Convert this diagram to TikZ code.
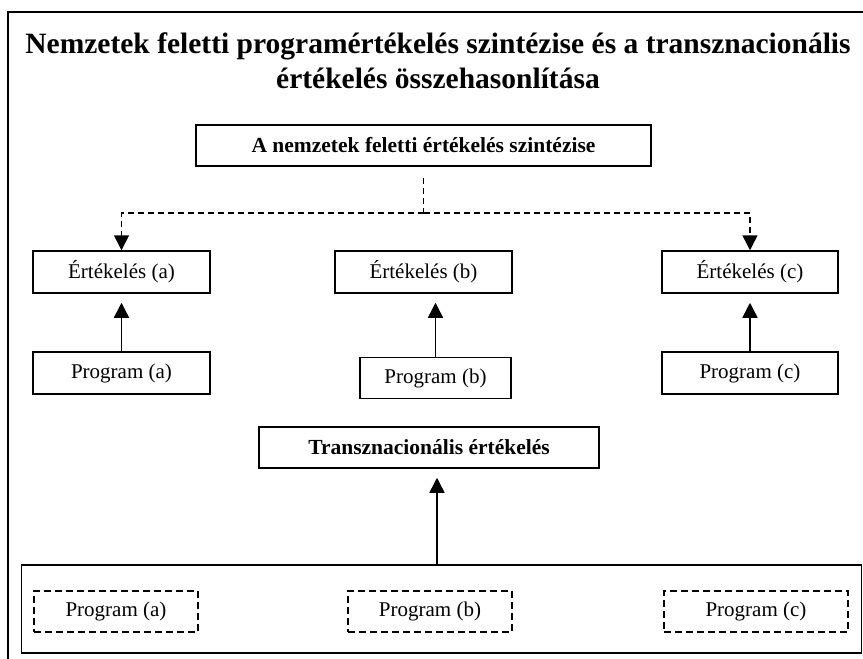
\documentclass[tikz,border=0pt]{standalone}
\usepackage{fontspec}
\setmainfont{Liberation Serif}
\usetikzlibrary{arrows.meta}
\tikzset{
  frame/.style={draw, line width=1.3pt},
  box/.style={draw, line width=1.5pt, inner sep=0pt, font=\fontsize{21}{25}\selectfont},
  boldbox/.style={box, font=\fontsize{21.5}{25}\selectfont\bfseries},
  dbox/.style={box, dash pattern=on 7pt off 4pt},
  arr/.style={line width=1.5pt, -{Triangle[length=15pt,width=15pt]}, shorten >=9pt},
  darr/.style={line width=1.5pt, dash pattern=on 6pt off 4pt, -{Triangle[length=15pt,width=15pt]}},
  dline/.style={line width=1.5pt, dash pattern=on 6pt off 4pt},
}
\begin{document}
\begin{tikzpicture}[x=1pt,y=-1pt]
\clip (0,0) rectangle (863,659);
\useasboundingbox (0,0) rectangle (863,659);
\draw[frame] (8,12) rectangle (880,680);
\node[align=center, font=\fontsize{29.5}{35}\selectfont\bfseries] (title) at (438,61)
  {Nemzetek feletti programértékelés szintézise és a transznacionális\\értékelés összehasonlítása};
\node[boldbox, minimum width=455pt, minimum height=41pt] (top) at (423.5,145.5) {A nemzetek feletti értékelés szintézise};
\node[box, minimum width=177pt, minimum height=42pt] (ea) at (121.5,272) {Értékelés (a)};
\node[box, minimum width=177pt, minimum height=42pt] (eb) at (423.5,272) {Értékelés (b)};
\node[box, minimum width=176pt, minimum height=42pt] (ec) at (750,272) {Értékelés (c)};
\node[box, minimum width=177pt, minimum height=42pt] (pa) at (121.5,373) {Program (a)};
\node[box, minimum width=151pt, minimum height=41pt] (pb) at (435.5,378) {Program (b)};
\node[box, minimum width=176pt, minimum height=42pt] (pc) at (750,373) {Program (c)};
\node[boldbox, minimum width=340pt, minimum height=41pt] (tr) at (429,447.5) {Transznacionális értékelés};
\node[draw, line width=1.3pt, minimum width=840pt, minimum height=88pt, inner sep=0pt] (bot) at (441.5,609) {};
\node[dbox, minimum width=164pt, minimum height=41pt] (da) at (116,611.5) {Program (a)};
\node[dbox, minimum width=164pt, minimum height=41pt] (db) at (430,611.5) {Program (b)};
\node[dbox, minimum width=184pt, minimum height=41pt] (dc) at (756,611.5) {Program (c)};
\coordinate (j) at (423.5,213);
\coordinate (bt) at (437,565);
\draw[dline, shorten <=11pt] (top.south) -- (top.south |- j);
\draw[darr] (top.south |- j) -| (ea.north);
\draw[darr] (top.south |- j) -| (ec.north);
\draw[arr] (pa.north) -- (ea.south);
\draw[arr] (pb.north) -- (pb.north |- eb.south);
\draw[arr] (pc.north) -- (ec.south);
\draw[arr] (bt) -- (bt |- tr.south);
\end{tikzpicture}
\end{document}
